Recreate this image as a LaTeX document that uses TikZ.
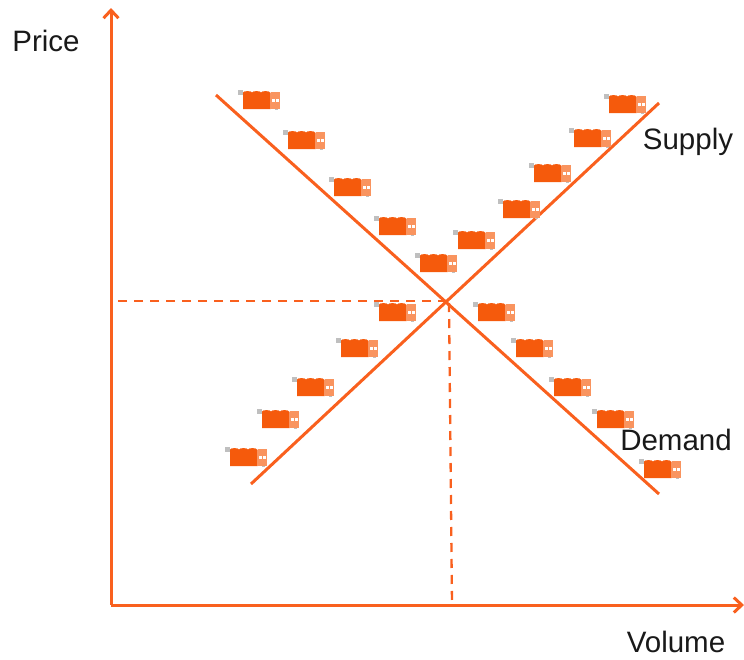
\documentclass[tikz,border=0pt]{standalone}
\usepackage{fontspec}
\setmainfont{Liberation Sans}
\usetikzlibrary{arrows.meta}
\definecolor{lineorange}{HTML}{F9601E}
\definecolor{boxorange}{HTML}{F55A0C}
\definecolor{sideorange}{HTML}{F9945F}

\tikzset{
  axisline/.style={line width=3pt, lineorange, -{Straight Barb[length=8pt, width=15pt, line width=3pt]}},
  curveline/.style={line width=3pt, lineorange},
  guideline/.style={line width=2.3pt, lineorange, dash pattern=on 9pt off 7pt},
  axislabel/.style={font=\fontsize{29.5}{32}\selectfont, text=black!90, inner sep=0pt},
  stockbox/.style={rectangle, minimum width=46pt, minimum height=22pt, inner sep=0pt, path picture={
    \begin{scope}[shift={(path picture bounding box.center)}]
      \fill[black!25] (-23,-10) rectangle (-18,-5);
      \fill[black!25] (14,8) rectangle (17,10);
      \fill[boxorange] (-18,-7.5) arc[start angle=180, end angle=360, x radius=4.5, y radius=1.4] arc[start angle=180, end angle=360, x radius=4.5, y radius=1.4] arc[start angle=180, end angle=360, x radius=4.5, y radius=1.4] -- (9.5,-7.5) -- (9.5,9) -- (-18,9) -- cycle;
      \fill[sideorange] (9.5,-8.5) rectangle (19,9);
      \fill[white] (11,-1) rectangle (13.5,2);
      \fill[white] (15,-1) rectangle (17.5,2);
    \end{scope}
  }}
}

\begin{document}
\begin{tikzpicture}[x=1pt, y=-1pt]

  \useasboundingbox (0,0) rectangle (744,659);

  % Axes
  \coordinate (origin) at (111,605);
  \coordinate (price-end) at (111,8);
  \coordinate (volume-end) at (744,605);
  \draw[axisline] (origin) -- (price-end);
  \draw[axisline] (origin) -- (volume-end);

  \node[axislabel] (price) at (46,41) {Price};
  \node[axislabel] (volume) at (676,642) {Volume};

  % Curves
  \coordinate (demand-start) at (216,95);
  \coordinate (demand-end) at (659,494);
  \coordinate (supply-start) at (251,484);
  \coordinate (supply-end) at (659,103);
  \draw[curveline] (demand-start) -- (demand-end);
  \draw[curveline] (supply-start) -- (supply-end);

  \node[axislabel] (supply) at (688,142) {Supply};
  \node[axislabel] (demand) at (676,440) {Demand};

  % Guides
  \coordinate (cross) at (447,301);
  \coordinate (cross-foot) at (449,303);
  \coordinate (price-foot) at (118,301);
  \coordinate (volume-foot) at (452,605);
  \draw[guideline] (cross) -- (price-foot);
  \draw[guideline] (cross-foot) -- (volume-foot);

  % Demand, upper
  \node[stockbox] (du1) at (261,100) {};
  \node[stockbox] (du2) at (306,140) {};
  \node[stockbox] (du3) at (352,187) {};
  \node[stockbox] (du4) at (397,226) {};
  \node[stockbox] (du5) at (438,263) {};

  % Demand, lower
  \node[stockbox] (dl1) at (496,312) {};
  \node[stockbox] (dl2) at (534,348) {};
  \node[stockbox] (dl3) at (572,387) {};
  \node[stockbox] (dl4) at (615,419) {};
  \node[stockbox] (dl5) at (662,469) {};

  % Supply, upper
  \node[stockbox] (su1) at (627,104) {};
  \node[stockbox] (su2) at (592,138) {};
  \node[stockbox] (su3) at (552,173) {};
  \node[stockbox] (su4) at (521,209) {};
  \node[stockbox] (su5) at (476,240) {};

  % Supply, lower
  \node[stockbox] (sl1) at (397,312) {};
  \node[stockbox] (sl2) at (359,348) {};
  \node[stockbox] (sl3) at (315,387) {};
  \node[stockbox] (sl4) at (280,419) {};
  \node[stockbox] (sl5) at (248,457) {};

\end{tikzpicture}
\end{document}
